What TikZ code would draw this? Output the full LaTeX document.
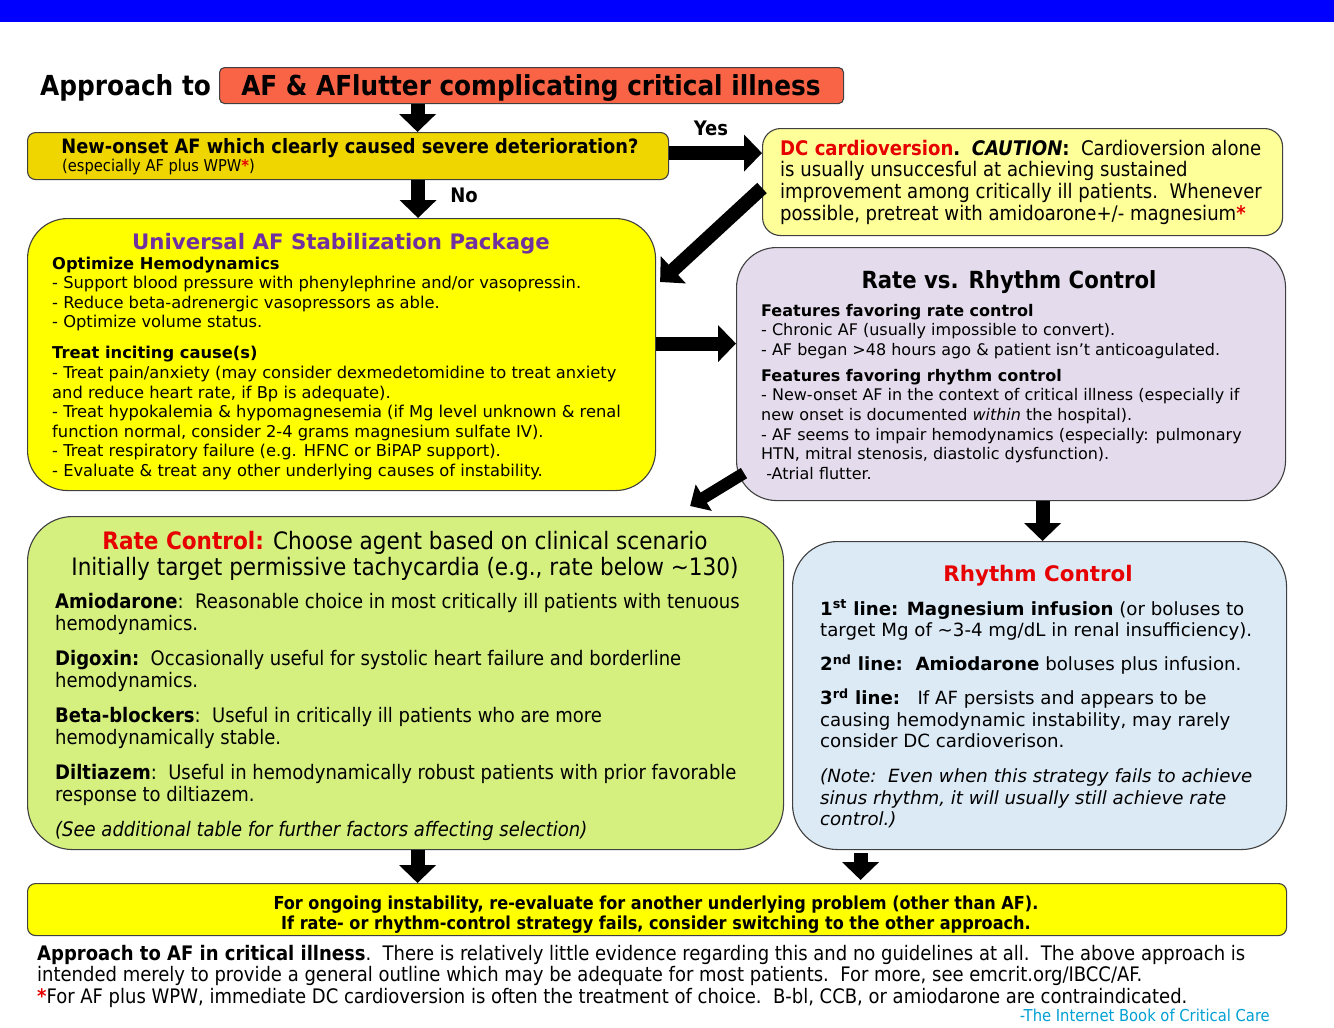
\documentclass[tikz,border=0pt]{standalone}
\usepackage{fontspec}
\setmainfont{DejaVu Sans}
\newfontfamily\cond{DejaVu Sans Condensed}[BoldFont={DejaVu Sans Condensed Bold},ItalicFont={DejaVu Sans Condensed Oblique},BoldItalicFont={DejaVu Sans Condensed Bold Oblique}]
\usetikzlibrary{arrows.meta,calc}
\definecolor{topblue}{RGB}{0,0,255}
\definecolor{orangebox}{RGB}{250,100,70}
\definecolor{qyellow}{RGB}{240,214,0}
\definecolor{dcyellow}{RGB}{255,255,153}
\definecolor{stabyellow}{RGB}{255,255,0}
\definecolor{lavender}{RGB}{228,220,236}
\definecolor{ratgreen}{RGB}{214,240,128}
\definecolor{rhyblue}{RGB}{220,234,246}
\definecolor{purp}{RGB}{112,48,160}
\definecolor{redtxt}{RGB}{230,0,0}
\definecolor{credit}{RGB}{0,160,210}
\newcommand\Lline[1]{\hbox{#1}}
\tikzset{
  box/.style={draw=black!75, line width=1.1pt, inner sep=0pt, anchor=north west},
  blk/.style={draw=black, line width=14pt, -{Triangle[width=36pt,length=18pt]}},
  blksmall/.style={draw=black, line width=12pt, -{Triangle[width=30pt,length=16pt]}},
  txt/.style={inner sep=0pt, anchor=base west},
  ctxt/.style={inner sep=0pt, anchor=base},
}
\begin{document}
\begin{tikzpicture}[x=1pt,y=-1pt]
\useasboundingbox (0,0) rectangle (1334,1028);
\fill[white] (0,0) rectangle (1334,1028);
\fill[topblue] (0,0) rectangle (1334,22);

% heading
\node[txt, font=\cond\bfseries\fontsize{27.6}{30}\selectfont] (appr) at (40,95) {Approach to};
\node[box, fill=orangebox, rounded corners=5pt, minimum width=624pt, minimum height=36pt] (orange) at (219,67) {};
\node[ctxt, font=\cond\bfseries\fontsize{27.5}{30}\selectfont] (orangetxt) at (531,95) {AF \& AFlutter complicating critical illness};

% question
\node[box, fill=qyellow, rounded corners=8pt, minimum width=641pt, minimum height=47pt] (q) at (27,132) {};
\node[ctxt, font=\cond\bfseries\fontsize{19.8}{22}\selectfont] (qtxt) at (350,153) {New-onset AF which clearly caused severe deterioration?};
\node[txt, font=\cond\fontsize{16.3}{18}\selectfont] (qsub) at (62,171) {(especially AF plus WPW\textcolor{redtxt}{\textbf{*}})};
\node[ctxt, font=\cond\bfseries\fontsize{20}{22}\selectfont] (yes) at (711,135) {Yes};
\node[ctxt, font=\cond\bfseries\fontsize{20}{22}\selectfont] (no) at (464,202) {No};

% DC cardioversion
\node[box, fill=dcyellow, rounded corners=18pt, minimum width=520pt, minimum height=107pt] (dc) at (762,128) {};
\node[txt, font=\cond\fontsize{20.1}{21.7}\selectfont] (dctxt) at (780,155) {\vtop{%
\Lline{\textcolor{redtxt}{\textbf{DC cardioversion}}\textbf{.}\ \ \textbf{\textit{CAUTION}}\textbf{:}\ \ Cardioversion alone}
\Lline{is usually unsuccesful at achieving sustained}
\Lline{improvement among critically ill patients.\ \ Whenever}
\Lline{possible, pretreat with amidoarone+/- magnesium\textcolor{redtxt}{\textbf{*}}}}};

% stabilization package
\node[box, fill=stabyellow, rounded corners=40pt, minimum width=628pt, minimum height=272pt] (stab) at (27,218) {};
\node[ctxt, font=\bfseries\fontsize{21.3}{24}\selectfont, text=purp] (stabtitle) at (341,249) {Universal AF Stabilization Package};
\node[txt, font=\fontsize{16.3}{19.6}\selectfont] (stabtxt) at (52,269) {\vtop{%
\Lline{\textbf{Optimize Hemodynamics}}
\Lline{- Support blood pressure with phenylephrine and/or vasopressin.}
\Lline{- Reduce beta-adrenergic vasopressors as able.}
\Lline{- Optimize volume status.}
\vskip 11.4pt
\Lline{\textbf{Treat inciting cause(s)}}
\Lline{- Treat pain/anxiety (may consider dexmedetomidine to treat anxiety}
\Lline{and reduce heart rate, if Bp is adequate).}
\Lline{- Treat hypokalemia \& hypomagnesemia (if Mg level unknown \& renal}
\Lline{function normal, consider 2-4 grams magnesium sulfate IV).}
\Lline{- Treat respiratory failure (e.g. HFNC or BiPAP support).}
\Lline{- Evaluate \& treat any other underlying causes of instability.}}};

% rate vs rhythm
\node[box, fill=lavender, rounded corners=40pt, minimum width=549pt, minimum height=253pt] (rvr) at (736,247) {};
\node[ctxt, font=\cond\bfseries\fontsize{23.6}{26}\selectfont] (rvrtitle) at (1009,288) {Rate vs. Rhythm Control};
\node[txt, font=\fontsize{16}{19.6}\selectfont] (rvrtxt) at (761,316) {\vtop{%
\Lline{\textbf{Features favoring rate control}}
\Lline{- Chronic AF (usually impossible to convert).}
\Lline{- AF began >48 hours ago \& patient isn't anticoagulated.}
\vskip 6.4pt
\Lline{\textbf{Features favoring rhythm control}}
\Lline{- New-onset AF in the context of critical illness (especially if}
\Lline{new onset is documented \textit{within} the hospital).}
\Lline{- AF seems to impair hemodynamics (especially: pulmonary}
\Lline{HTN, mitral stenosis, diastolic dysfunction).}
\Lline{\ -Atrial flutter.}}};

% rate control
\node[box, fill=ratgreen, rounded corners=45pt, minimum width=756pt, minimum height=333pt] (rate) at (27,516) {};
\node[ctxt, font=\cond\fontsize{24}{26}\selectfont] (ratet1) at (405,549) {\textcolor{redtxt}{\textbf{Rate Control:}} Choose agent based on clinical scenario};
\node[ctxt, font=\cond\fontsize{24}{26}\selectfont] (ratet2) at (405,575) {Initially target permissive tachycardia (e.g., rate below \textasciitilde130)};
\node[txt, font=\cond\fontsize{20}{22}\selectfont] (ratetxt) at (55,608) {\vtop{%
\Lline{\textbf{Amiodarone}:\ \ Reasonable choice in most critically ill patients with tenuous}
\Lline{hemodynamics.}
\vskip 13pt
\Lline{\textbf{Digoxin:}\ \ Occasionally useful for systolic heart failure and borderline}
\Lline{hemodynamics.}
\vskip 13pt
\Lline{\textbf{Beta-blockers}:\ \ Useful in critically ill patients who are more}
\Lline{hemodynamically stable.}
\vskip 13pt
\Lline{\textbf{Diltiazem}:\ \ Useful in hemodynamically robust patients with prior favorable}
\Lline{response to diltiazem.}
\vskip 13pt
\Lline{\itshape (See additional table for further factors affecting selection)}}};

% rhythm control
\node[box, fill=rhyblue, rounded corners=45pt, minimum width=494pt, minimum height=308pt] (rhy) at (792,541) {};
\node[ctxt, font=\bfseries\fontsize{21.4}{24}\selectfont, text=redtxt] (rhytitle) at (1038,581) {Rhythm Control};
\node[txt, font=\fontsize{18.2}{21.5}\selectfont] (rhytxt) at (820,615) {\vtop{%
\Lline{\textbf{1\textsuperscript{st} line: Magnesium infusion} (or boluses to}
\Lline{target Mg of \textasciitilde3-4 mg/dL in renal insufficiency).}
\vskip 12.5pt
\Lline{\textbf{2\textsuperscript{nd} line:\ \ Amiodarone} boluses plus infusion.}
\vskip 12.5pt
\Lline{\textbf{3\textsuperscript{rd} line:}\ \ \ If AF persists and appears to be}
\Lline{causing hemodynamic instability, may rarely}
\Lline{consider DC cardioverison.}
\vskip 13.5pt
\Lline{\itshape (Note:\ \ Even when this strategy fails to achieve}
\Lline{\itshape sinus rhythm, it will usually still achieve rate}
\Lline{\itshape control.)}}};

% bottom box
\node[box, fill=stabyellow, rounded corners=8pt, minimum width=1259pt, minimum height=52pt] (bot) at (27,883) {};
\node[ctxt, font=\cond\bfseries\fontsize{17.9}{20}\selectfont] (bot1) at (656,909) {For ongoing instability, re-evaluate for another underlying problem (other than AF).};
\node[ctxt, font=\cond\bfseries\fontsize{17.9}{20}\selectfont] (bot2) at (656,929) {If rate- or rhythm-control strategy fails, consider switching to the other approach.};

% footer
\node[txt, font=\cond\fontsize{20}{21.5}\selectfont] (foot) at (37,960) {\vtop{%
\Lline{\textbf{Approach to AF in critical illness}.\ \ There is relatively little evidence regarding this and no guidelines at all.\ \ The above approach is}
\Lline{intended merely to provide a general outline which may be adequate for most patients.\ \ For more, see emcrit.org/IBCC/AF.}
\Lline{\textcolor{redtxt}{\textbf{*}}For AF plus WPW, immediate DC cardioversion is often the treatment of choice.\ \ B-bl, CCB, or amiodarone are contraindicated.}}};
\node[inner sep=0pt, anchor=base east, font=\cond\fontsize{16.4}{18}\selectfont, text=credit] (cred) at (1270,1021) {-The Internet Book of Critical Care};

% connectors
\draw[blk] ([xshift=-114pt]orange.south) -- ([xshift=-114pt]orange.south |- q.north);
\draw[blk] ([yshift=3pt]q.east) -- ([yshift=3pt]q.east -| dc.west);
\draw[blk] ([xshift=70pt]q.south) -- ([xshift=70pt]q.south |- stab.north);
\draw[blk] ([shift={(0,60)}]dc.north west) -- ([shift={(4,64)}]stab.north east);
\draw[blk] ([yshift=11pt]stab.east) -- ([yshift=11pt]stab.east -| rvr.west);
\draw[blksmall] ([shift={(8,-28)}]rvr.south west) -- ([shift={(-94,-10)}]rate.north east);
\draw[blk] ([xshift=31.5pt]rvr.south) -- ([xshift=31.5pt]rvr.south |- rhy.north);
\draw[blk] ([xshift=12pt]rate.south) -- ([xshift=12pt]rate.south |- bot.north);
\draw[blk] ([shift={(-179,3)}]rhy.south) -- ([xshift=-179pt,yshift=3pt]rhy.south |- bot.north);
\end{tikzpicture}
\end{document}
